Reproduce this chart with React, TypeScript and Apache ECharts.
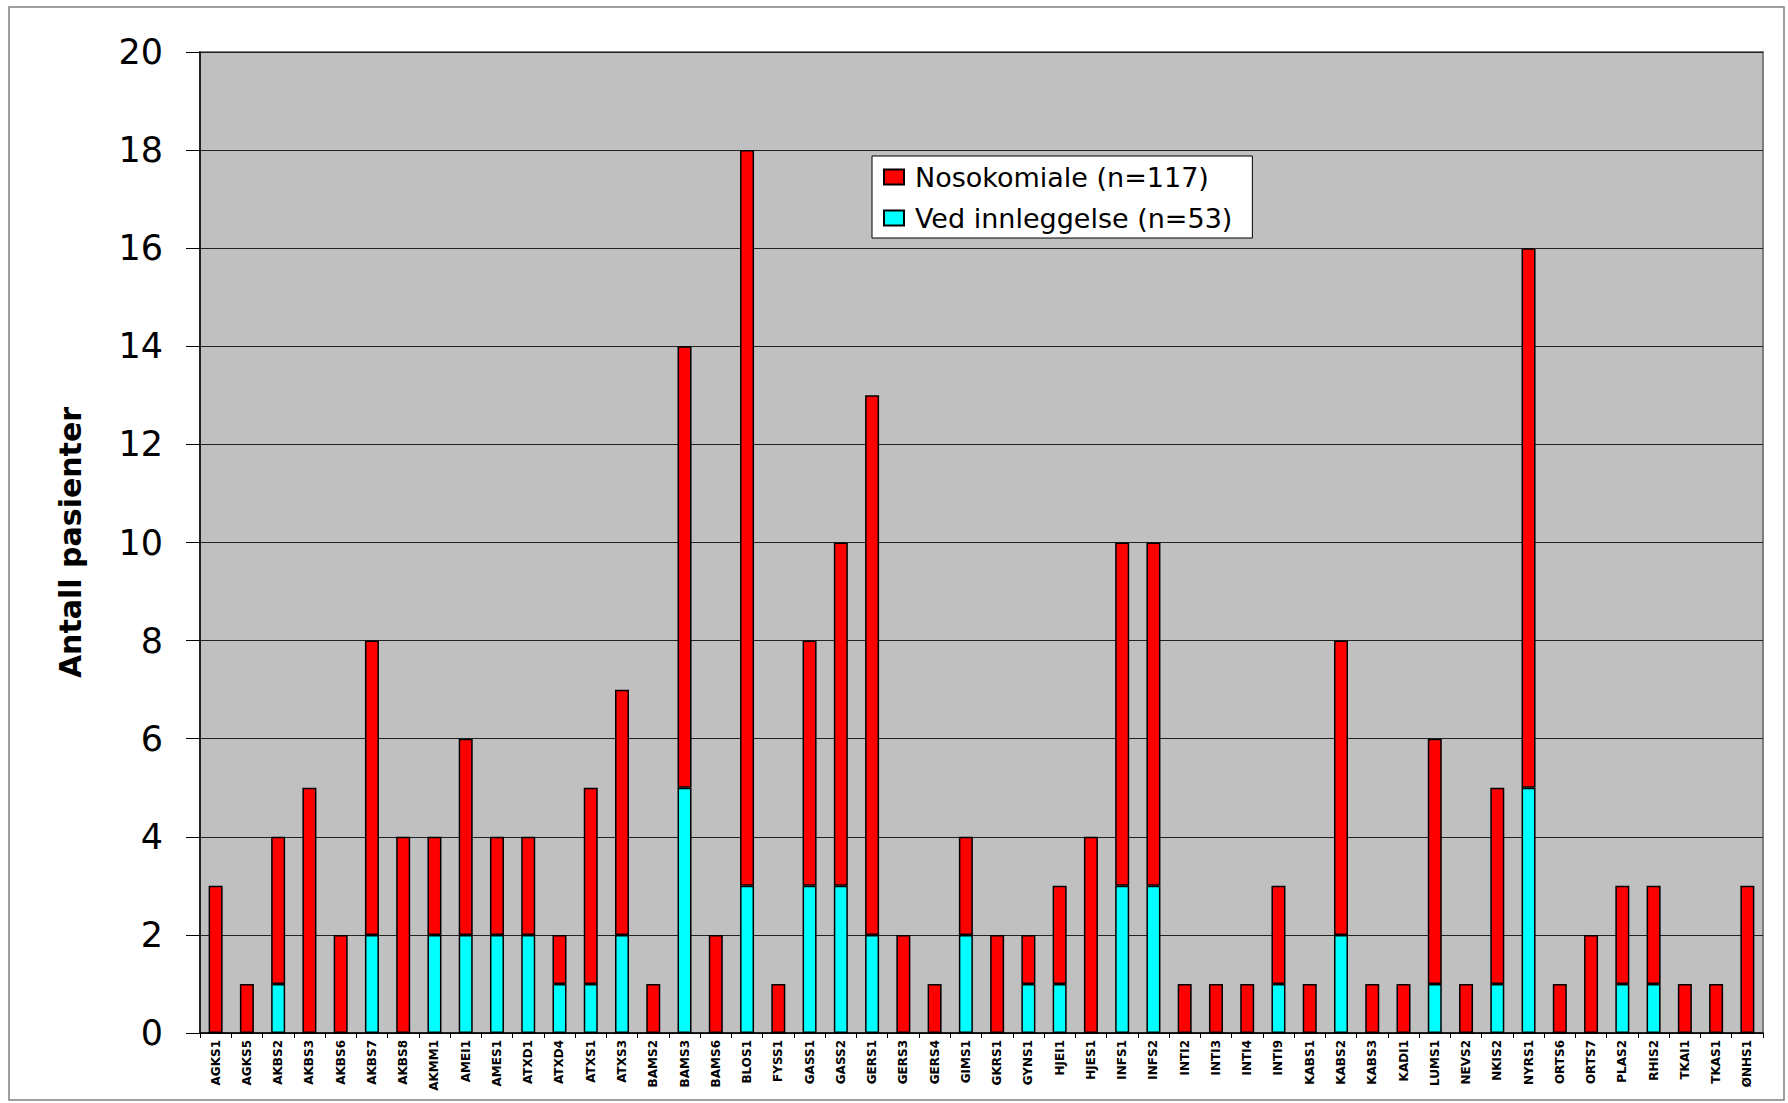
import React, { useEffect, useRef } from "react";
import * as echarts from "echarts";

const categories = [
  "AGKS1", "AGKS5", "AKBS2", "AKBS3", "AKBS6", "AKBS7", "AKBS8", "AKMM1", "AMEI1", "AMES1",
  "ATXD1", "ATXD4", "ATXS1", "ATXS3", "BAMS2", "BAMS3", "BAMS6", "BLOS1", "FYSS1", "GASS1",
  "GASS2", "GERS1", "GERS3", "GERS4", "GIMS1", "GKRS1", "GYNS1", "HJEI1", "HJES1", "INFS1",
  "INFS2", "INTI2", "INTI3", "INTI4", "INTI9", "KABS1", "KABS2", "KABS3", "KADI1", "LUMS1",
  "NEVS2", "NKIS2", "NYRS1", "ORTS6", "ORTS7", "PLAS2", "RHIS2", "TKAI1", "TKAS1", "ØNHS1",
];

// Red segment (stacked on top)
const nosokomiale = [
  3, 1, 3, 5, 2, 6, 4, 2, 4, 2,
  2, 1, 4, 5, 1, 9, 2, 15, 1, 5,
  7, 11, 2, 1, 2, 2, 1, 2, 4, 7,
  7, 1, 1, 1, 2, 1, 6, 1, 1, 5,
  1, 4, 11, 1, 2, 2, 2, 1, 1, 3,
];

// Cyan segment (bottom)
const vedInnleggelse = [
  0, 0, 1, 0, 0, 2, 0, 2, 2, 2,
  2, 1, 1, 2, 0, 5, 0, 3, 0, 3,
  3, 2, 0, 0, 2, 0, 1, 1, 0, 3,
  3, 0, 0, 0, 1, 0, 2, 0, 0, 1,
  0, 1, 5, 0, 0, 1, 1, 0, 0, 0,
];

const yTicks = [0, 2, 4, 6, 8, 10, 12, 14, 16, 18, 20];

const nameRed = "Nosokomiale (n=117)";
const nameCyan = "Ved innleggelse (n=53)";

export default function App() {
  const ref = useRef<HTMLDivElement>(null);

  useEffect(() => {
    if (!ref.current) return;
    const chart = echarts.init(ref.current, null, { renderer: "svg" });
    const font = "DejaVu Sans";
    chart.setOption({
      animation: false,
      backgroundColor: "#ffffff",
      graphic: [
        {
          type: "rect",
          shape: { x: 9, y: 7, width: 1775, height: 1093 },
          style: { fill: "none", stroke: "#808080", lineWidth: 1.5 },
          silent: true,
          z: -10,
        },
      ],
      grid: {
        left: 200,
        top: 52,
        right: 25,
        bottom: 70,
        show: true,
        backgroundColor: "#C0C0C0",
        borderColor: "#808080",
        borderWidth: 2,
      },
      legend: {
        orient: "vertical",
        left: 872,
        top: 156,
        data: [nameRed, nameCyan],
        backgroundColor: "#ffffff",
        borderColor: "#000000",
        borderWidth: 1,
        padding: [6, 20, 5, 11],
        itemWidth: 20,
        itemHeight: 15,
        itemGap: 11,
        icon: "rect",
        textStyle: {
          fontFamily: font,
          fontSize: 27,
          color: "#000",
          lineHeight: 30,
          padding: [0, 0, 0, 6],
        },
      },
      xAxis: {
        type: "category",
        data: categories,
        axisLine: { lineStyle: { color: "#000", width: 1.5 } },
        axisTick: { show: true, length: 5, lineStyle: { color: "#000" }, alignWithLabel: false },
        axisLabel: {
          interval: 0,
          rotate: 90,
          fontFamily: font,
          fontSize: 12,
          fontWeight: "bold",
          color: "#000",
          margin: 7,
        },
      },
      yAxis: {
        type: "value",
        min: yTicks[0],
        max: yTicks[yTicks.length - 1],
        interval: 2,
        name: "Antall pasienter",
        nameLocation: "middle",
        nameGap: 115,
        nameTextStyle: {
          fontFamily: font,
          fontSize: 30,
          fontWeight: "bold",
          color: "#000",
        },
        axisLine: { show: true, lineStyle: { color: "#000", width: 1.5 } },
        axisTick: { show: true, inside: false, length: 14, lineStyle: { color: "#000" } },
        axisLabel: {
          fontFamily: font,
          fontSize: 35,
          color: "#000",
          margin: 37,
        },
        splitLine: { show: true, lineStyle: { color: "#222", width: 1.2 } },
      },
      series: [
        {
          name: nameCyan,
          type: "bar",
          stack: "total",
          data: vedInnleggelse,
          barWidth: 14,
          itemStyle: { color: "#00FFFF", borderColor: "#000", borderWidth: 1.5 },
        },
        {
          name: nameRed,
          type: "bar",
          stack: "total",
          data: nosokomiale,
          barWidth: 14,
          itemStyle: { color: "#FF0000", borderColor: "#000", borderWidth: 1.5 },
        },
      ],
    });
    return () => chart.dispose();
  }, []);

  return (
    <div
      ref={ref}
      style={{ position: "fixed", left: 0, top: 0, width: 1788, height: 1103 }}
    />
  );
}
